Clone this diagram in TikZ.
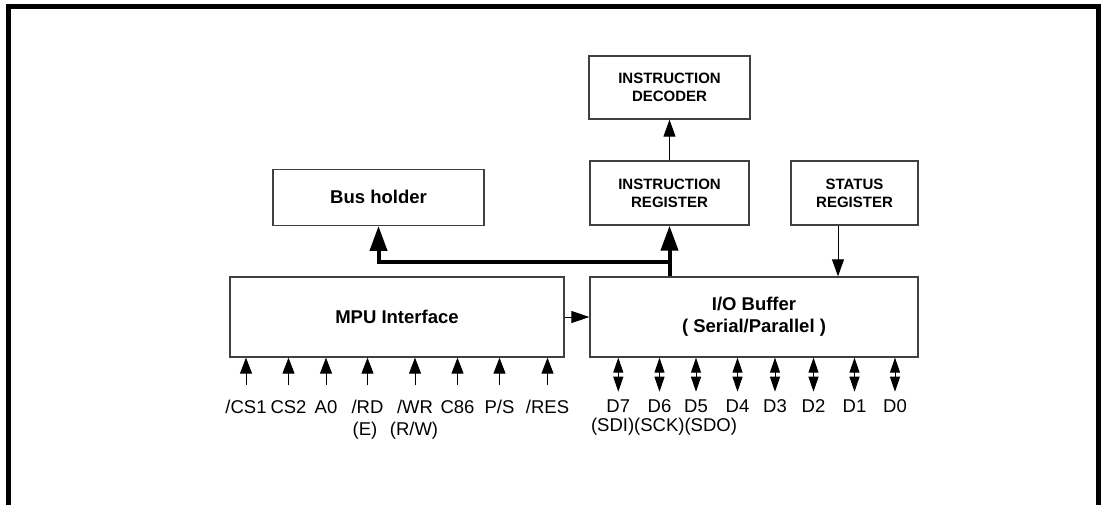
\documentclass[tikz,border=0pt]{standalone}
\usepackage{fontspec}
\setmainfont{Liberation Sans}
\usetikzlibrary{arrows.meta}
\begin{document}
\begin{tikzpicture}[x=1pt,y=-1pt,
  blk/.style={draw=black!75, line width=1.3pt, inner sep=0pt, align=center,
     font=\fontsize{18.5}{22}\selectfont\bfseries},
  smallblk/.style={blk, font=\fontsize{15}{17.7}\selectfont\bfseries},
  thinarrow/.style={draw=black, line width=1pt, -{Triangle[length=17pt,width=12pt]}},
  pinarrow/.style={draw=black, line width=1pt, -{Triangle[length=16pt,width=12pt]}},
  biarrow/.style={draw=black, line width=1pt, {Triangle[length=15pt,width=10pt]}-{Triangle[length=15pt,width=10pt]}},
  busline/.style={draw=black, line width=4pt, line join=miter, -{Triangle[length=25pt,width=17pt]}},
  pinlabel/.style={anchor=base, inner sep=0pt, font=\fontsize{18.5}{22}\selectfont},
  frameline/.style={draw=black, line width=5pt, line join=miter}
]
\useasboundingbox (0,0) rectangle (1106,504);
\clip (0,0) rectangle (1106,504);
\fill[white] (0,0) rectangle (1106,504);
\draw[frameline] (8.5,530) -- (8.5,6.5) -- (1098.5,6.5) -- (1098.5,530);

% blocks
\node[smallblk, minimum width=161pt, minimum height=63pt] (dec) at (669.5,87.5) {INSTRUCTION\\DECODER};
\node[smallblk, minimum width=159pt, minimum height=64pt] (ireg) at (669.5,193) {INSTRUCTION\\REGISTER};
\node[smallblk, minimum width=127pt, minimum height=64pt] (sreg) at (854.5,193) {STATUS\\REGISTER};
\node[blk, minimum width=211pt, minimum height=56pt] (bus) at (378.5,197.3) {Bus holder};
\node[blk, minimum width=334pt, minimum height=80pt] (mpu) at (397,317) {MPU Interface};
\node[blk, minimum width=328pt, minimum height=80pt] (io) at (754,317) {I/O Buffer\\( Serial/Parallel )};

% internal connections
\draw[thinarrow] (ireg.north) -- (dec.south);
\coordinate (sx) at (838,250);
\draw[thinarrow] (sreg.south -| sx) -- (io.north -| sx);
\draw[thinarrow, -{Triangle[length=18pt,width=12pt]}] (mpu.east) -- (io.west);

% bus
\coordinate (bj) at (669.5,261.7);
\draw[busline] (ireg.south |- io.north) -- (ireg.south);
\draw[busline] (bj) -| (bus.south);

% MPU pins
\foreach \x/\nm/\lab in {246/c1/{/CS1}, 288.5/c2/{CS2}, 326/c3/{A0}, 367.5/c4/{/RD}, 415/c5/{/WR}, 457.5/c6/{C86}, 499.5/c7/{P/S}, 547.5/c8/{/RES}}{
  \coordinate (\nm) at (\x,385);
  \draw[pinarrow] (\nm) -- (\nm |- mpu.south);
  \node[pinlabel] (l\nm) at (\x,413) {\lab};
}
\node[pinlabel] (le) at (365,435) {(E)};
\node[pinlabel] (lrw) at (414,435) {(R/W)};

% data pins
\foreach \x/\nm/\lab in {618.3/d7/D7, 659.5/d6/D6, 696/d5/D5, 737.5/d4/D4, 775/d3/D3, 813.5/d2/D2, 854.5/d1/D1, 895/d0/D0}{
  \coordinate (\nm) at (\x,391.7);
  \draw[biarrow] (\nm |- io.south) -- (\nm);
  \node[pinlabel] (l\nm) at (\x,412) {\lab};
}
\node[pinlabel] (lser) at (664,431) {(SDI)(SCK)(SDO)};
\end{tikzpicture}
\end{document}
